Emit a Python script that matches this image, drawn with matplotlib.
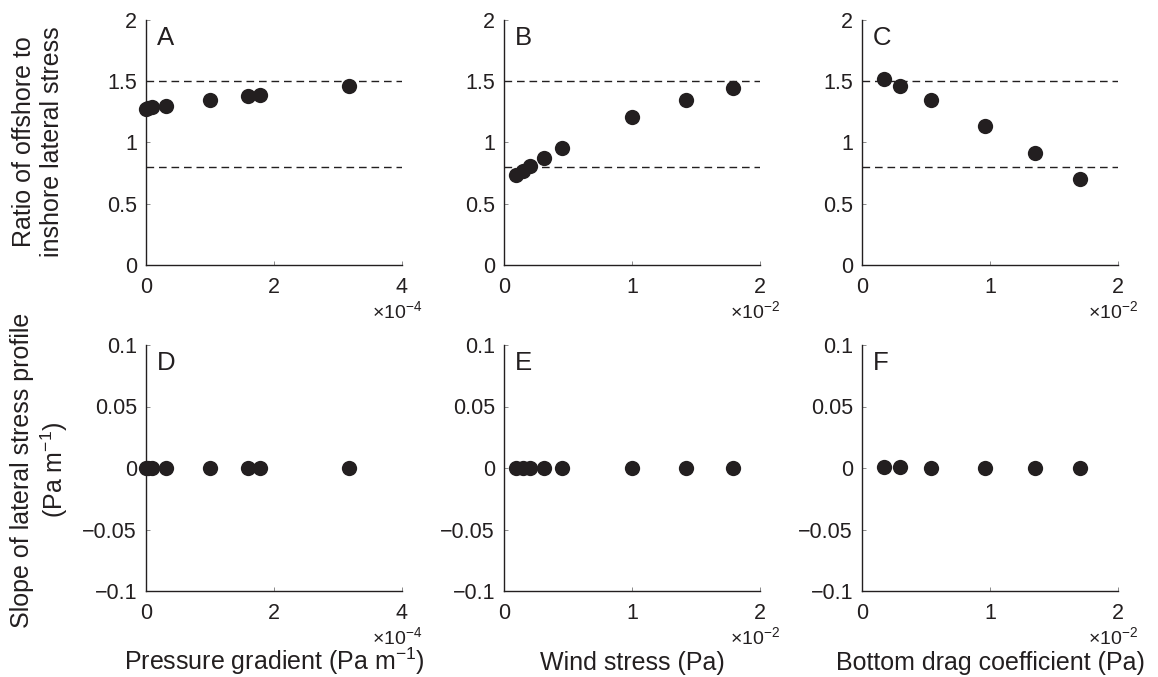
import matplotlib
matplotlib.use("Agg")
import matplotlib.pyplot as plt
import numpy as np

plt.rcParams['font.family'] = ['Liberation Sans', 'DejaVu Sans']
plt.rcParams['mathtext.fontset'] = 'custom'
plt.rcParams['mathtext.rm'] = 'Liberation Sans'
plt.rcParams['mathtext.it'] = 'Liberation Sans'

INK = '#231f20'

# pressure gradient (Pa m-1), wind stress (Pa), bottom drag coefficient (Pa)
pressure = [0.0, 0.03e-4, 0.09e-4, 0.31e-4, 1.0e-4, 1.6e-4, 1.78e-4, 3.17e-4]
wind = [0.09e-2, 0.145e-2, 0.205e-2, 0.31e-2, 0.45e-2, 1.0e-2, 1.42e-2, 1.79e-2]
drag = [0.17e-2, 0.30e-2, 0.54e-2, 0.96e-2, 1.35e-2, 1.70e-2]

# ratio of offshore to inshore lateral stress
ratio_pressure = [1.275, 1.285, 1.29, 1.30, 1.345, 1.38, 1.39, 1.465]
ratio_wind = [0.735, 0.77, 0.81, 0.873, 0.952, 1.205, 1.347, 1.445]
ratio_drag = [1.516, 1.461, 1.347, 1.135, 0.914, 0.702]

# slope of lateral stress profile (Pa m-1)
slope_pressure = [0.0, 0.0, 0.0, 0.0, 0.0, 0.0, 0.0, 0.0003]
slope_wind = [0.0, 0.0, 0.0, 0.0, 0.0, 0.0, 0.0, 0.0]
slope_drag = [0.0005, 0.0005, 0.0002, 0.0, -0.0002, -0.0003]

ratio_bounds = [0.8, 1.5]

x_data = [pressure, wind, drag]
x_scale = [1e-4, 1e-2, 1e-2]
x_max = [4, 2, 2]
x_ticks = [[0, 2, 4], [0, 1, 2], [0, 1, 2]]
x_offset = [r'$\times10^{-4}$', r'$\times10^{-2}$', r'$\times10^{-2}$']
x_labels = ['Pressure gradient (Pa m$^{-1}$)', 'Wind stress (Pa)',
            'Bottom drag coefficient (Pa)']
ratios = [ratio_pressure, ratio_wind, ratio_drag]
slopes = [slope_pressure, slope_wind, slope_drag]
letters = [['A', 'B', 'C'], ['D', 'E', 'F']]

W, H = 1158, 677
fig = plt.figure(figsize=(W / 100, H / 100), dpi=100)

lefts = [146, 504, 862]
axw = 256
rows = [(20, 265), (345, 591)]  # top, bottom in pixels


def style(ax, col, xmax, ticks):
    for s in ['top', 'right']:
        ax.spines[s].set_visible(False)
    for s in ['left', 'bottom']:
        ax.spines[s].set_linewidth(1.0)
        ax.spines[s].set_color(INK)
    ax.set_xlim(0, xmax)
    ax.set_xticks(ticks)
    ax.set_xticklabels([str(t) for t in ticks])
    ax.tick_params(axis='x', direction='in', length=3, width=0.6,
                   color='#777777', pad=8.5, labelsize=15.5, labelcolor=INK)
    ax.tick_params(axis='y', direction='in', length=3, width=0.6,
                   color='#777777', pad=6.5, labelsize=15.5, labelcolor=INK)
    ax.patch.set_visible(False)


for r, (top, bot) in enumerate(rows):
    for c in range(3):
        rect = [lefts[c] / W, (H - bot) / H, axw / W, (bot - top) / H]
        ax = fig.add_axes(rect)
        xs = np.array(x_data[c]) / x_scale[c]
        style(ax, c, x_max[c], x_ticks[c])
        if r == 0:
            for b in ratio_bounds:
                ax.axhline(b, color=INK, lw=1.0, ls=(0, (5.5, 3.5)))
            ax.plot(xs, ratios[c], 'o', color=INK, ms=11, mec='none',
                    clip_on=False, zorder=3)
            ax.set_ylim(0, 2)
            ax.set_yticks([0, 0.5, 1, 1.5, 2])
            ax.set_yticklabels(['0', '0.5', '1', '1.5', '2'])
        else:
            ax.plot(xs, slopes[c], 'o', color=INK, ms=11, mec='none',
                    clip_on=False, zorder=3)
            ax.set_ylim(-0.1, 0.1)
            ax.set_yticks([-0.1, -0.05, 0, 0.05, 0.1])
            ax.set_yticklabels(['\u22120.1', '\u22120.05', '0', '0.05', '0.1'])
        ax.text(0.043, 0.898, letters[r][c], transform=ax.transAxes,
                fontsize=18.5, color=INK, va='baseline', ha='left')
        ax.annotate(x_offset[c], xy=(1, 0), xycoords='axes fraction',
                    xytext=(14.5, -38), textcoords='offset points',
                    ha='right', va='baseline', fontsize=14, color=INK)
        if r == 1:
            fig.text((lefts[c] + axw / 2) / W, 7 / H, x_labels[c],
                     ha='center', va='baseline', fontsize=18, color=INK)

fig.text(38 / W, (H - 142) / H, 'Ratio of offshore to\ninshore lateral stress',
         rotation=90, ha='center', va='center', multialignment='center',
         fontsize=18, color=INK)
fig.text(40 / W, (H - 470) / H, 'Slope of lateral stress profile\n(Pa m$^{-1}$)',
         rotation=90, ha='center', va='center', multialignment='center',
         fontsize=18, color=INK)

fig.savefig('out.png', dpi=100, facecolor='white')
